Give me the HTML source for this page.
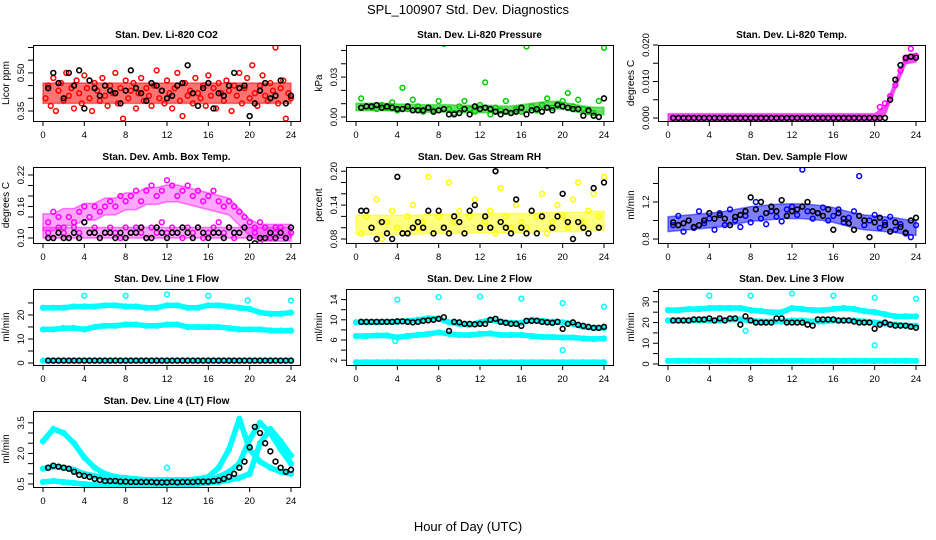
<!DOCTYPE html>
<html><head><meta charset="utf-8"><style>
html,body{margin:0;padding:0;background:#fff;}
svg{display:block;font-family:"Liberation Sans",Arial,sans-serif;}
</style></head><body>
<svg id="chart" width="936" height="540" viewBox="0 0 936 540">
<rect x="0" y="0" width="936" height="540" fill="#fff"/>
<text x="468" y="14" text-anchor="middle" font-size="13">SPL_100907  Std. Dev. Diagnostics</text>
<text x="468" y="531" text-anchor="middle" font-size="13">Hour of Day (UTC)</text>
</svg>
<script>
// ---------- data ----------
const co2Red=[0.40,0.45,0.37,0.48,0.35,0.43,0.46,0.39,0.50,0.41,0.44,0.36,0.47,0.42,0.38,0.49,0.44,0.40,0.35,0.46,0.43,0.39,0.48,0.41,0.37,0.45,0.42,0.50,0.38,0.44,0.32,0.47,0.40,0.43,0.46,0.36,0.42,0.48,0.39,0.44,0.41,0.37,0.45,0.51,0.40,0.43,0.38,0.47,0.42,0.36,0.44,0.50,0.39,0.33,0.46,0.41,0.43,0.38,0.48,0.42,0.40,0.45,0.37,0.49,0.41,0.44,0.36,0.46,0.42,0.39,0.47,0.43,0.35,0.45,0.41,0.50,0.38,0.44,0.48,0.40,0.53,0.42,0.37,0.45,0.49,0.41,0.39,0.46,0.43,0.60,0.38,0.44,0.47,0.32,0.42,0.40];
const co2Black=[0.44,0.50,0.46,0.40,0.50,0.45,0.51,0.36,0.47,0.44,0.41,0.45,0.43,0.42,0.38,0.43,0.51,0.44,0.42,0.39,0.46,0.45,0.43,0.40,0.41,0.45,0.46,0.53,0.42,0.37,0.44,0.46,0.36,0.42,0.41,0.45,0.50,0.44,0.45,0.33,0.38,0.43,0.46,0.40,0.41,0.47,0.38,0.41];
const co2BandMid=[0.42,0.42,0.42,0.42,0.42,0.42,0.42,0.42,0.42,0.42,0.42,0.42,0.42,0.42,0.42,0.42,0.42,0.42,0.42,0.42,0.42,0.42,0.42,0.42,0.42];
const co2BandHalf=0.04;

const presGreen=[0.014,0.008,0.007,0.006,0.009,0.007,0.011,0.005,0.022,0.006,0.013,0.008,0.004,0.007,0.005,0.012,0.055,0.006,0.003,0.008,0.012,0.006,0.004,0.009,0.026,0.002,0.007,0.005,0.012,0.003,0.006,0.004,0.053,0.008,0.005,0.009,0.014,0.007,0.010,0.012,0.018,0.008,0.013,0.006,0.004,0.003,0.012,0.052];
const presBlack=[0.007,0.008,0.008,0.009,0.007,0.008,0.007,0.006,0.006,0.008,0.005,0.005,0.005,0.007,0.004,0.005,0.006,0.002,0.002,0.003,0.006,0.002,0.008,0.006,0.007,0.006,0.004,0.002,0.004,0.003,0.004,0.007,0.002,0.005,0.006,0.004,0.007,0.005,0.009,0.008,0.007,0.006,0.006,0.001,0.005,0.001,0.000,0.014];
const presBandMid=[0.0075,0.0075,0.0075,0.0075,0.007,0.007,0.0065,0.0065,0.0065,0.0065,0.006,0.006,0.006,0.006,0.0055,0.0055,0.0065,0.0075,0.0085,0.009,0.0085,0.007,0.0055,0.0045,0.0045];
const presBandHalf=0.0028;

const tempMag=[0,0,0,0,0,0,0,0,0,0,0,0,0,0,0,0,0,0,0,0,0,0,0,0,0,0,0,0,0,0,0,0,0,0,0,0,0,0,0,0,0.003,0.004,0.006,0.009,0.013,0.016,0.019,0.017];
const tempBlack=[0,0,0,0,0,0,0,0,0,0,0,0,0,0,0,0,0,0,0,0,0,0,0,0,0,0,0,0,0,0,0,0,0,0,0,0,0,0,0,0,0,0,0.005,0.0105,0.0145,0.0165,0.0168,0.0165];
const tempBandMid=[0,0,0,0,0,0,0,0,0,0,0,0,0,0,0,0,0,0,0,0,0,0.002,0.009,0.016,0.0165];
const tempBandHalf=0.0012;

const boxMagUpper=[0.13,0.15,0.14,0.12,0.14,0.13,0.15,0.16,0.14,0.16,0.15,0.16,0.17,0.16,0.18,0.17,0.18,0.19,0.17,0.19,0.20,0.18,0.19,0.21,0.20,0.18,0.19,0.20,0.18,0.19,0.17,0.18,0.19,0.17,0.16,0.17,0.16,0.15,0.14,0.13,0.12,0.13,0.12,0.11,0.12,0.11,0.10,0.11];
const boxMagLower=[0.11,0.10,0.12,0.11,0.10,0.12,0.11,0.13,0.11,0.12,0.10,0.11,0.12,0.11,0.10,0.12,0.11,0.12,0.11,0.10,0.12,0.11,0.13,0.11,0.12,0.11,0.10,0.12,0.11,0.12,0.10,0.11,0.12,0.13,0.11,0.12,0.10,0.11,0.12,0.10,0.11,0.09,0.12,0.10,0.11,0.12,0.10,0.11];
const boxBlack=[0.10,0.10,0.11,0.10,0.10,0.11,0.10,0.13,0.11,0.11,0.10,0.11,0.11,0.10,0.11,0.10,0.11,0.11,0.12,0.10,0.10,0.12,0.11,0.10,0.11,0.11,0.12,0.11,0.10,0.12,0.11,0.10,0.11,0.11,0.10,0.12,0.11,0.11,0.12,0.10,0.09,0.10,0.10,0.11,0.10,0.11,0.10,0.12];
const boxBandMid=[0.13,0.13,0.14,0.14,0.15,0.15,0.16,0.16,0.17,0.17,0.18,0.18,0.185,0.185,0.18,0.175,0.17,0.165,0.16,0.14,0.12,0.11,0.11,0.11,0.11];
const boxBandHalf=0.016;
const boxBand2Mid=[0.11,0.11,0.11,0.11,0.11,0.11,0.11,0.11,0.11,0.11,0.11,0.11,0.11,0.11,0.11,0.11,0.11,0.11,0.11,0.11,0.11,0.11,0.11,0.11,0.11];
const boxBand2Half=0.01;

const rhYellow=[0.09,0.12,0.10,0.15,0.08,0.11,0.13,0.10,0.09,0.12,0.14,0.10,0.11,0.19,0.09,0.12,0.10,0.18,0.11,0.13,0.09,0.12,0.15,0.10,0.11,0.13,0.09,0.17,0.12,0.10,0.14,0.11,0.10,0.13,0.12,0.16,0.09,0.11,0.14,0.12,0.10,0.15,0.18,0.11,0.13,0.16,0.12,0.19];
const rhBlack=[0.13,0.13,0.10,0.08,0.11,0.09,0.08,0.19,0.09,0.09,0.10,0.11,0.10,0.13,0.09,0.13,0.10,0.09,0.12,0.11,0.09,0.13,0.14,0.10,0.12,0.10,0.20,0.11,0.10,0.09,0.15,0.10,0.09,0.13,0.09,0.12,0.21,0.10,0.12,0.16,0.11,0.08,0.11,0.10,0.09,0.17,0.10,0.18];
const rhBandMid=[0.105,0.105,0.105,0.105,0.105,0.105,0.105,0.107,0.107,0.107,0.107,0.108,0.108,0.108,0.108,0.108,0.108,0.108,0.11,0.11,0.11,0.11,0.11,0.112,0.112];
const rhBandHalf=0.017;

const flowBlue=[0.95,1.05,0.88,1.00,0.92,1.10,0.97,1.02,0.90,1.08,0.95,1.12,1.00,0.93,1.05,0.98,1.20,1.02,0.96,1.10,1.04,0.99,1.12,1.15,1.06,1.55,1.10,1.02,1.08,1.14,1.00,1.05,1.12,0.98,1.03,1.10,1.48,0.95,1.00,1.06,0.92,0.98,1.04,0.90,0.96,0.86,0.82,0.95];
const flowBlack=[0.98,0.95,0.97,1.00,0.93,0.95,1.00,1.08,1.02,1.06,1.02,0.95,1.04,1.06,1.10,1.25,1.12,1.20,1.08,1.15,1.10,1.22,1.05,1.10,1.12,1.15,1.20,1.10,1.08,1.05,1.12,0.90,1.08,1.02,0.97,0.90,1.05,1.00,0.82,0.98,1.03,0.95,0.88,0.98,0.93,0.87,1.00,1.03];
const flowBandMid=[0.96,0.97,0.98,0.99,1.00,1.01,1.03,1.05,1.07,1.08,1.09,1.10,1.10,1.10,1.09,1.08,1.06,1.03,1.00,0.98,0.97,0.96,0.95,0.93,0.92];
const flowBandHalf=0.08;

const line1A=[23,23,23,23.5,23.5,23.5,24,24,23.5,23.5,23,23,24,24,23,23,24,24,23.5,23,22.5,21,20.5,20.5,21];
const line1B=[14,14,14.5,14.5,14,15,15.5,15.5,16,16,15.5,15.5,16,16,15,15,15,15,14.5,14,14,14,13.5,13.5,13.5];
const line1C=[1,1,1,1,1,1,1,1,1,1,1,1,1,1,1,1,1,1,1,1,1,1,1,1,1];
const line1Black=[1,1,1,1,1,1,1,1,1,1,1,1,1,1,1,1,1,1,1,1,1,1,1,1,1,1,1,1,1,1,1,1,1,1,1,1,1,1,1,1,1,1,1,1,1,1,1,1];
const line1OutT=[4,8,12,16,19.8,24];
const line1OutV=[28,28,28.5,28,26,26];

const line2A=[9.5,9.5,9.5,9.6,9.6,9.8,10,10.3,10.2,9.5,9.2,9.0,9.5,10,9.6,9.4,9.4,10,9.8,9.6,9.5,9.2,8.6,8.4,8.4];
const line2B=[6.8,6.8,6.9,6.9,6.5,6.8,7.0,7.2,7.5,7.2,7.0,7.0,7.2,7.3,7.0,7.0,7.0,6.8,6.6,6.6,6.5,6.5,6.3,6.2,6.3];
const line2C=[1.6,1.6,1.6,1.6,1.6,1.6,1.6,1.6,1.6,1.6,1.6,1.6,1.6,1.6,1.6,1.6,1.6,1.6,1.6,1.6,1.6,1.6,1.6,1.6,1.6];
const line2Black=[9.6,9.6,9.6,9.6,9.6,9.6,9.6,9.7,9.7,9.6,9.5,9.6,9.8,9.9,10.0,10.2,10.5,7.8,9.6,9.5,9.2,9.2,9.1,9.2,9.2,10.0,10.2,9.6,9.4,9.2,9.2,8.8,9.8,9.8,9.8,9.6,9.5,9.4,9.6,8.2,9.2,9.5,9.0,8.8,8.6,8.4,8.4,8.6];
const line2OutT=[4,8,12,16,20,20,24,3.8];
const line2OutV=[14,14.5,14.6,14.2,13.3,4.0,12.6,5.8];

const line3A=[26,26,26.5,26.5,27,27,27,27,26,25.5,25,25,27,26.5,26,26,26.5,27,26.5,25.5,25,24,23,23,23];
const line3B=[21,21,21,21,21,21,21.5,21.5,21,20.5,20.5,20.5,21,21,20.5,20.5,21,21,21,20.5,20,19.5,19,18.5,18.5];
const line3C=[1.5,1.5,1.5,1.5,1.5,1.5,1.5,1.5,1.5,1.5,1.5,1.5,1.5,1.5,1.5,1.5,1.5,1.5,1.5,1.5,1.5,1.5,1.5,1.5,1.5];
const line3Black=[21,21,21,21,21.5,21.5,21.5,22,21,22,21,22,22,19,23,21,20,20,20,20,22,22,20,20,20,20,19,18.5,21.5,21.5,21.5,21.5,21,21,21,20.5,20,20,20,17,19,20,19,18.5,18.5,18.5,18,17.5];
const line3OutT=[4,8,12,16,20,20,24,7.5];
const line3OutV=[33,33,34,33,32,9,31.5,16];

const line4A=[2.6,3.2,3.0,2.5,1.8,1.3,1.0,0.85,0.8,0.75,0.7,0.7,0.7,0.7,0.7,0.75,0.85,1.3,2.2,3.7,2.2,1.6,1.3,1.1,1.0];
const line4B=[1.25,1.35,1.3,1.2,1.0,0.9,0.8,0.7,0.65,0.6,0.6,0.6,0.6,0.6,0.6,0.65,0.7,0.85,1.1,1.5,2.7,3.5,3.0,2.2,1.5];
const line4C=[0.6,0.65,0.6,0.55,0.5,0.45,0.45,0.45,0.45,0.45,0.45,0.45,0.45,0.45,0.45,0.5,0.55,0.6,0.7,0.8,1.0,2.5,3.2,2.6,1.9];
const line4Black=[1.3,1.4,1.35,1.3,1.25,1.1,0.95,0.9,0.85,0.75,0.7,0.65,0.65,0.65,0.62,0.62,0.6,0.6,0.6,0.6,0.6,0.58,0.58,0.58,0.6,0.58,0.6,0.6,0.6,0.62,0.62,0.62,0.65,0.68,0.75,0.85,1.0,1.3,1.6,2.3,3.3,3.0,2.5,2.1,1.6,1.3,1.1,1.2];
const line4OutT=[12];
const line4OutV=[1.3];

const xTicks=[0,4,8,12,16,20,24];

// ---------- drawing ----------
const NS="http://www.w3.org/2000/svg";
const svg=document.getElementById('chart');
function mk(tag,attrs,parent){const e=document.createElementNS(NS,tag);for(const k in attrs)e.setAttribute(k,attrs[k]);(parent||svg).appendChild(e);return e;}
const LEFTS=[33,346,658],W=267,H=76;
let clipId=0;

function drawPanel(p){
  const col=p.idx%3,row=Math.floor(p.idx/3);
  const L=LEFTS[col],T=45+122*row,B=T+H;
  const xs=t=>L+10+t*248/24;
  const ys=v=>B-(v-p.dom[0])/(p.dom[1]-p.dom[0])*H;
  const g=mk('g',{});
  
  
  const tt=mk('text',{x:L+W/2,y:T-7,'text-anchor':'middle','font-size':'10','font-weight':'bold'},g);
  tt.textContent=p.title;
  
  
  const cid='c'+(clipId++);
  const cp=mk('clipPath',{id:cid},g);mk('rect',{x:L,y:T,width:W,height:H},cp);
  const plot=mk('g',{'clip-path':'url(#'+cid+')'},g);
  (p.bands||[]).forEach((bd,bi)=>{
    const n=bd.mid.length;let up=[],dn=[];
    bd.mid.forEach((v,i)=>{const t=i*24/(n-1);up.push(xs(t)+','+ys(v+bd.half));dn.unshift(xs(t)+','+ys(v-bd.half));});
    const pg=mk('polygon',{points:up.concat(dn).join(' '),fill:p.color,'fill-opacity':String(p.bandOp||0.5),stroke:p.color,'stroke-opacity':'0.5','stroke-width':'1.5','stroke-linejoin':'round'},plot);
    
    
  });
  (p.lines||[]).forEach((ln,li)=>{
    const n=ln.length;
    const pts=ln.map((v,i)=>xs(i*24/(n-1))+','+ys(v)).join(' ');
    const pl=mk('polyline',{points:pts,fill:'none',stroke:p.color,'stroke-width':'5.5','stroke-linejoin':'round','stroke-linecap':'round'},plot);
    
    
    ln.forEach((v,i)=>{const c=mk('circle',{cx:xs(i*24/(n-1)),cy:ys(v),r:2.4,fill:'none',stroke:p.color,'stroke-width':'1.5'},plot);
      
      });
  });
  (p.pts||[]).forEach(arr=>{
    const n=arr.length;
    arr.forEach((v,i)=>{const c=mk('circle',{cx:xs((i+1)*24/n),cy:ys(v),r:2.4,fill:'none',stroke:p.color,'stroke-width':'1.5'},plot);
      
      });
  });
  if(p.outT){p.outT.forEach((t,i)=>{const c=mk('circle',{cx:xs(t),cy:ys(p.outV[i]),r:2.4,fill:'none',stroke:p.color,'stroke-width':'1.5'},plot);
    
    });}
  const nb=p.black.length;
  p.black.forEach((v,i)=>{const c=mk('circle',{cx:xs((i+1)*24/nb),cy:ys(v),r:2.4,fill:'none',stroke:'#000','stroke-width':'1.6'},plot);
    
    });
  const bx=mk('rect',{x:L+0.5,y:T+0.5,width:W,height:H,fill:'none',stroke:'#000','stroke-width':'1'},g);
  
  
  xTicks.forEach(t=>{mk('line',{x1:xs(t),x2:xs(t),y1:B,y2:B+5,stroke:'#000'},g);
    const tx=mk('text',{x:xs(t),y:B+17,'text-anchor':'middle','font-size':'9.5'},g);tx.textContent=t;
    
    });
  p.yt.forEach(v=>{mk('line',{x1:L-5,x2:L,y1:ys(v),y2:ys(v),stroke:'#000'},g);});
  p.yl.forEach(v=>{const y=ys(v);const tx=mk('text',{x:L-9,y:y,'text-anchor':'middle','font-size':'9.5',transform:'rotate(-90 '+(L-9)+' '+y+')'},g);
    tx.textContent=v.toFixed(p.dec);
    
    });
  const ym=(T+B)/2;
  const yt=mk('text',{x:L-24,y:ym,'text-anchor':'middle','font-size':'10',transform:'rotate(-90 '+(L-24)+' '+ym+')'},g);
  yt.textContent=p.ylab;
  
  
}

const panels=[
 {idx:0,name:'co2',title:'Stan. Dev. Li-820 CO2',ylab:'Licor ppm',color:'#ff0000',bandOp:0.55,dom:[0.3106,0.6098],yt:[0.35,0.40,0.45,0.50,0.55,0.60],yl:[0.35,0.50],dec:2,bands:[{mid:co2BandMid,half:co2BandHalf}],pts:[co2Red],black:co2Black},
 {idx:1,name:'pressure',title:'Stan. Dev. Li-820 Pressure',ylab:'kPa',color:'#00cc00',bandOp:0.6,dom:[-0.003,0.0541],yt:[0,0.01,0.02,0.03,0.04,0.05],yl:[0,0.03],dec:2,bands:[{mid:presBandMid,half:presBandHalf}],pts:[presGreen],black:presBlack},
 {idx:2,name:'li820-temp',title:'Stan. Dev. Li-820 Temp.',ylab:'degrees C',color:'#ff00ff',bandOp:0.7,dom:[-0.00082,0.0200],yt:[0,0.005,0.010,0.015,0.020],yl:[0,0.010,0.020],dec:3,bands:[{mid:tempBandMid,half:tempBandHalf}],pts:[tempMag],black:tempBlack},
 {idx:3,name:'amb-box-temp',title:'Stan. Dev. Amb. Box Temp.',ylab:'degrees C',color:'#ff00ff',bandOp:0.35,dom:[0.0905,0.2352],yt:[0.10,0.12,0.14,0.16,0.18,0.20,0.22],yl:[0.10,0.16,0.22],dec:2,bands:[{mid:boxBandMid,half:boxBandHalf},{mid:boxBand2Mid,half:boxBand2Half}],pts:[boxMagUpper,boxMagLower],black:boxBlack},
 {idx:4,name:'gas-rh',title:'Stan. Dev. Gas Stream RH',ylab:'percent',color:'#ffff00',bandOp:0.5,dom:[0.0729,0.2074],yt:[0.08,0.10,0.12,0.14,0.16,0.18,0.20],yl:[0.08,0.14,0.20],dec:2,bands:[{mid:rhBandMid,half:rhBandHalf}],pts:[rhYellow],black:rhBlack},
 {idx:5,name:'sample-flow',title:'Stan. Dev. Sample Flow',ylab:'ml/min',color:'#0000ff',bandOp:0.5,dom:[0.757,1.578],yt:[0.8,1.0,1.2,1.4],yl:[0.8,1.2],dec:1,bands:[{mid:flowBandMid,half:flowBandHalf}],pts:[flowBlue],black:flowBlack},
 {idx:6,name:'line1-flow',title:'Stan. Dev. Line 1 Flow',ylab:'ml/min',color:'#00ffff',dom:[-0.83,30.8],yt:[0,5,10,15,20,25],yl:[0,10,20],dec:0,lines:[line1A,line1B,line1C],outT:line1OutT,outV:line1OutV,black:line1Black},
 {idx:7,name:'line2-flow',title:'Stan. Dev. Line 2 Flow',ylab:'ml/min',color:'#00ffff',dom:[1.05,16.1],yt:[2,4,6,8,10,12,14],yl:[2,6,10,14],dec:0,lines:[line2A,line2B,line2C],outT:line2OutT,outV:line2OutV,black:line2Black},
 {idx:8,name:'line3-flow',title:'Stan. Dev. Line 3 Flow',ylab:'ml/min',color:'#00ffff',dom:[-0.5,36.2],yt:[0,5,10,15,20,25,30,35],yl:[0,10,20,30],dec:0,lines:[line3A,line3B,line3C],outT:line3OutT,outV:line3OutV,black:line3Black},
 {idx:9,name:'line4-flow',title:'Stan. Dev. Line 4 (LT) Flow',ylab:'ml/min',color:'#00ffff',dom:[0.353,4.08],yt:[0.5,1.0,1.5,2.0,2.5,3.0,3.5],yl:[0.5,2.0,3.5],dec:1,lines:[line4A,line4B,line4C],outT:line4OutT,outV:line4OutV,black:line4Black}
];
panels.forEach(drawPanel);
</script>
</body></html>
